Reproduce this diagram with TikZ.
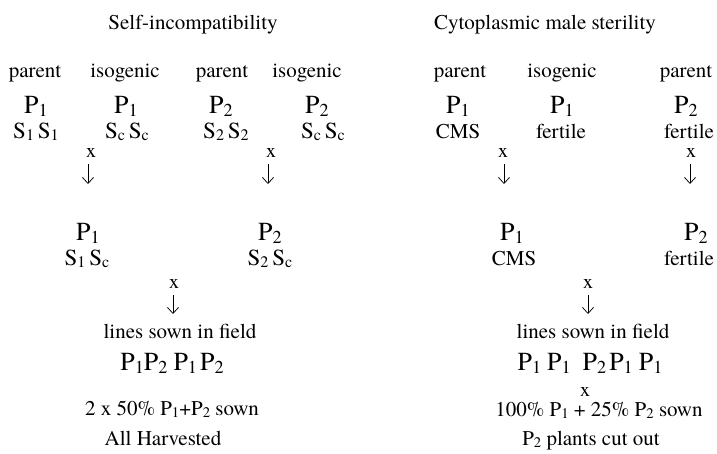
\documentclass[tikz,border=0pt]{standalone}
\usepackage{fontspec}
\usepackage{graphicx}
\usetikzlibrary{arrows.meta}
\setmainfont{TeX Gyre Termes}
\newcommand\sbs[1]{\raisebox{-0.12em}{\scalebox{0.7}{#1}}}
\begin{document}
\begin{tikzpicture}[x=1pt,y=-1pt,
  txt/.style={anchor=base,inner sep=0pt,font=\fontsize{21}{24}\selectfont},
  bigp/.style={anchor=base,inner sep=0pt,font=\fontsize{26}{30}\selectfont},
  gen/.style={anchor=base,inner sep=0pt,font=\fontsize{23}{26}\selectfont},
  cross/.style={anchor=base,inner sep=0pt,font=\fontsize{20}{24}\selectfont},
  downarr/.style={line width=0.75pt,-{Straight Barb[length=6pt,width=11pt,line width=0.75pt]}}]
\useasboundingbox (0,0) rectangle (717,453);
% titles
\node[txt] (t1) at (193,29) {Self-incompatibility};
\node[txt] (t2) at (545,29) {Cytoplasmic male sterility};
% labels
\node[txt] (l1) at (35,77) {parent};
\node[txt] (l2) at (125,77) {isogenic};
\node[txt] (l3) at (222,77) {parent};
\node[txt] (l4) at (307,77) {isogenic};
\node[txt] (l5) at (460,77) {parent};
\node[txt] (l6) at (562,77) {isogenic};
\node[txt] (l7) at (686,77) {parent};
% P row
\node[bigp] (p1) at (36,113) {P\sbs{1}};
\node[bigp] (p2) at (126,113) {P\sbs{1}};
\node[bigp] (p3) at (221,113) {P\sbs{2}};
\node[bigp] (p4) at (317,113) {P\sbs{2}};
\node[bigp] (p5) at (458,113) {P\sbs{1}};
\node[bigp] (p6) at (562,113) {P\sbs{1}};
\node[bigp] (p7) at (686,113) {P\sbs{2}};
% genotype row
\node[gen] (g1) at (36,138) {S\sbs{1}\,S\sbs{1}};
\node[gen] (g2) at (127,138) {S\sbs{c}\,S\sbs{c}};
\node[gen] (g3) at (226,138) {S\sbs{2}\,S\sbs{2}};
\node[gen] (g4) at (323,138) {S\sbs{c}\,S\sbs{c}};
\node[txt] (g5) at (458,138) {CMS};
\node[txt] (g6) at (561,138) {fertile};
\node[txt] (g7) at (689,138) {fertile};
% crosses
\node[cross] (x1) at (91,157) {x};
\node[cross] (x2) at (271,157) {x};
\node[cross] (x3) at (503,157) {x};
\node[cross] (x4) at (691,157) {x};
\coordinate (a1t) at (88,164);  \coordinate (a1b) at (88,184);
\coordinate (a2t) at (268,164); \coordinate (a2b) at (268,184);
\coordinate (a3t) at (504,164); \coordinate (a3b) at (504,184);
\coordinate (a4t) at (690,164); \coordinate (a4b) at (690,184);
\draw[downarr] (a1t) -- (a1b);
\draw[downarr] (a2t) -- (a2b);
\draw[downarr] (a3t) -- (a3b);
\draw[downarr] (a4t) -- (a4b);
% middle row
\node[bigp] (m1) at (88,240) {P\sbs{1}};
\node[bigp] (m2) at (270,240) {P\sbs{2}};
\node[bigp] (m3) at (512,240) {P\sbs{1}};
\node[bigp] (m4) at (696,240) {P\sbs{2}};
\node[gen] (n1) at (87,265) {S\sbs{1}\,S\sbs{c}};
\node[gen] (n2) at (270,265) {S\sbs{2}\,S\sbs{c}};
\node[txt] (n3) at (514,265) {CMS};
\node[txt] (n4) at (689,265) {fertile};
\node[cross] (x5) at (174,288) {x};
\node[cross] (x6) at (588,288) {x};
\coordinate (a5t) at (173,295); \coordinate (a5b) at (173,314);
\coordinate (a6t) at (588,295); \coordinate (a6b) at (588,314);
\draw[downarr] (a5t) -- (a5b);
\draw[downarr] (a6t) -- (a6b);
% bottom
\node[txt] (f1) at (180,338) {lines sown in field};
\node[txt] (f2) at (593,338) {lines sown in field};
\node[bigp] (r1) at (172,370) {P\sbs{1}P\sbs{2}\hspace{6pt}P\sbs{1}\hspace{3pt}P\sbs{2}};
\node[bigp] (r2) at (590,370) {P\sbs{1}\hspace{6pt}P\sbs{1}\hspace{12pt}P\sbs{2}\hspace{3pt}P\sbs{1}\hspace{6pt}P\sbs{1}};
\node[cross] (x7) at (585,396) {x};
\node[txt] (s1) at (172,415) {2 x 50\% P\sbs{1}+P\sbs{2} sown};
\node[txt] (s2) at (599,416) {100\% P\sbs{1} + 25\% P\sbs{2} sown};
\node[txt] (h1) at (163,445) {All Harvested};
\node[txt] (h2) at (591,445) {P\sbs{2}\ plants cut out};
\end{tikzpicture}
\end{document}
